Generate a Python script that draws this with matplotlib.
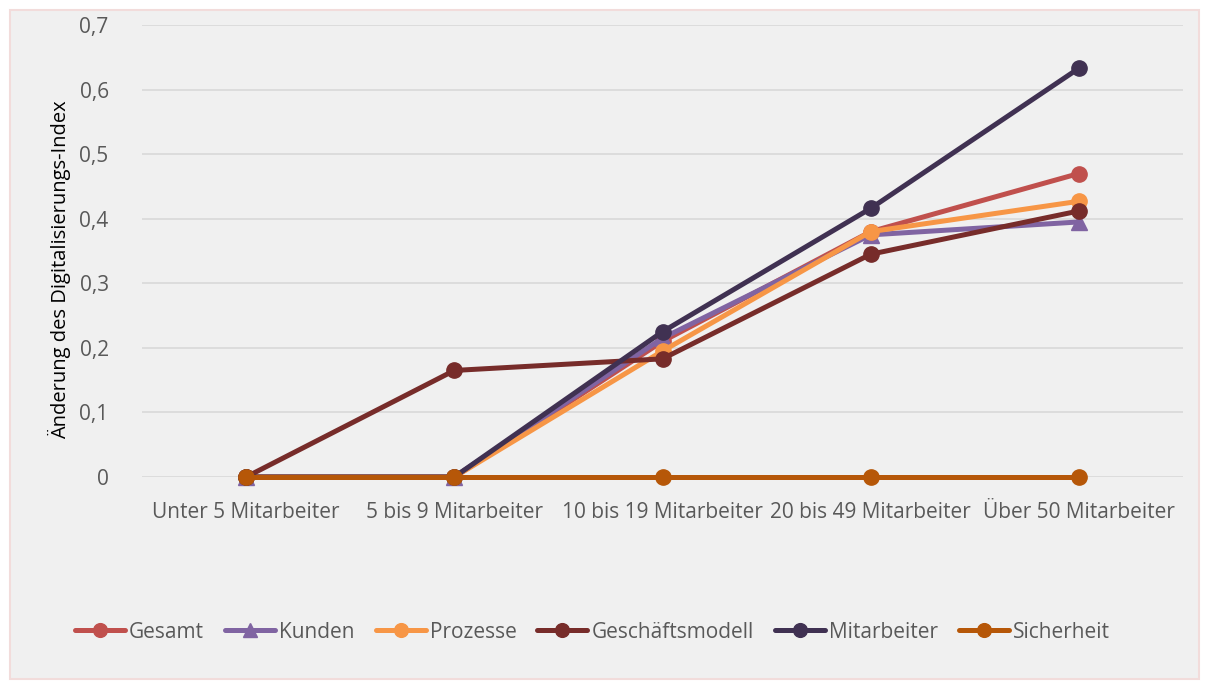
import matplotlib
matplotlib.use("Agg")
import matplotlib.pyplot as plt
from matplotlib.patches import Rectangle

# data
categories = ["Unter 5 Mitarbeiter", "5 bis 9 Mitarbeiter", "10 bis 19 Mitarbeiter",
              "20 bis 49 Mitarbeiter", "Über 50 Mitarbeiter"]
gesamt = [0, 0, 0.21, 0.38, 0.47]
kunden = [0, 0, 0.215, 0.375, 0.395]
prozesse = [0, 0, 0.195, 0.38, 0.427]
geschaeftsmodell = [0, 0.165, 0.183, 0.345, 0.412]
mitarbeiter = [0, 0, 0.225, 0.416, 0.633]
sicherheit = [0, 0, 0, 0, 0]

series = [
    ("Gesamt", gesamt, "#C0504D", "o"),
    ("Kunden", kunden, "#8064A2", "^"),
    ("Prozesse", prozesse, "#F79646", "o"),
    ("Geschäftsmodell", geschaeftsmodell, "#772C2A", "o"),
    ("Mitarbeiter", mitarbeiter, "#403152", "o"),
    ("Sicherheit", sicherheit, "#B65708", "o"),
]

plt.rcParams['font.family'] = ['Open Sans', 'DejaVu Sans']
text_col = "#595959"

fig = plt.figure(figsize=(12.09, 6.86), dpi=100, facecolor="white")
fig.patches.append(Rectangle((10 / 1209, 0.01), 1 - 20 / 1209, 1 - 10 / 686 - 0.01,
                             transform=fig.transFigure, facecolor="#F0F0F0",
                             edgecolor="#F2DCDB", linewidth=1.5, zorder=-10))
ax = fig.add_axes([142 / 1209, 1 - 477 / 686, (1183 - 142) / 1209, (477 - 25) / 686])
ax.set_facecolor("#F0F0F0")
ax.patch.set_alpha(0)

x = range(len(categories))
for name, vals, col, mk in series:
    ax.plot(x, vals, color=col, lw=3.6, marker=mk, markersize=11, label=name,
            solid_capstyle="round", clip_on=False)

ax.set_xlim(-0.5, 4.5)
ax.set_ylim(0, 0.7)
ax.set_yticks([i / 10 for i in range(8)])
ax.set_yticklabels(["0"] + [f"0,{i}" for i in range(1, 8)])
ax.set_xticks(list(x))
ax.set_xticklabels(categories)
ax.grid(axis="y", color="#D9D9D9", lw=1.2)
ax.set_axisbelow(True)
for s in ax.spines.values():
    s.set_visible(False)
ax.tick_params(length=0, labelsize=15, colors=text_col, pad=18)
ax.tick_params(axis="y", pad=24)

fig.text(60 / 1209, 1 - 270 / 686, "Änderung des Digitalisierungs-Index", rotation=90,
         ha="center", va="center", fontsize=14.5, color="#000000")

leg = fig.legend(loc="center", bbox_to_anchor=(0.49, 1 - 632 / 686), ncol=6, frameon=False,
                 fontsize=15, handlelength=2.4, columnspacing=1.0, handletextpad=0.2,
                 markerscale=0.9)
for t in leg.get_texts():
    t.set_color(text_col)

fig.savefig("out.png", dpi=100, facecolor="white")
